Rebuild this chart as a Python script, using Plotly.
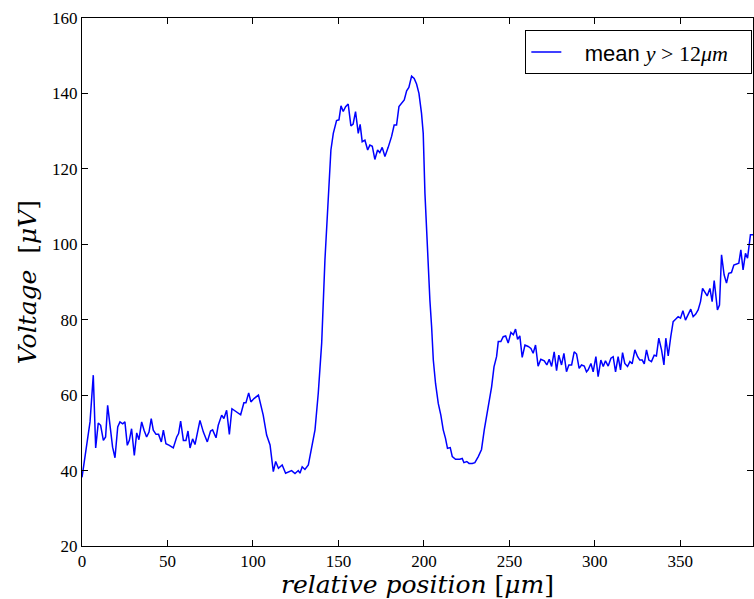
import plotly.graph_objects as go

position = [
    0.0, 4.7, 6.6, 8.0, 9.5, 10.9, 12.5, 13.8, 15.0, 16.8, 17.9, 19.3, 20.9, 22.2, 23.8, 25.1,
    26.5, 27.7, 29.0, 30.6, 32.0, 33.3, 34.9, 36.3, 37.8, 39.2, 40.5, 41.7, 43.3, 44.8, 46.4,
    47.6, 49.1, 51.1, 53.4, 55.4, 56.5, 57.7, 59.3, 60.8, 62.0, 63.2, 64.7, 66.1, 67.4, 69.0,
    71.0, 73.3, 75.2, 76.4, 78.4, 79.7, 81.7, 83.0, 84.6, 86.2, 87.7, 90.4, 92.8, 94.7, 95.9,
    97.5,
    98.8, 100.6, 103.2, 106.0, 108.0, 110.0, 111.9, 113.3, 114.9, 117.1, 119.1, 122.6, 124.6,
    126.5, 127.5, 128.8, 130.4, 132.4, 134.3, 136.3, 138.2, 140.2, 142.1, 144.0, 145.6, 147.0,
    148.9, 150.3, 151.5, 152.8, 154.2, 155.7, 157.3, 158.6, 160.0, 161.6, 162.7, 163.9, 165.5,
    167.1, 168.4, 169.8, 171.3, 172.9, 174.2, 175.6, 177.2, 179.1, 181.1, 182.6, 184.0, 185.4,
    186.9, 188.5, 189.9, 191.2, 192.8, 194.3, 195.7, 197.1, 198.6, 199.6, 200.6, 202.0,
    203.5, 204.5, 205.5, 206.8, 208.4, 209.9, 211.3, 212.6, 213.8, 215.4, 216.6, 218.5, 221.0,
    222.4, 223.4, 225.1, 226.4, 228.3, 229.8, 231.8, 233.7, 235.3, 236.6, 238.0, 239.6, 241.0,
    242.5, 243.5, 245.0, 246.4, 247.8, 249.3, 250.9, 252.3, 253.6, 254.8, 256.1, 257.5, 259.1,
    261.0, 262.6, 263.9, 265.3, 266.8, 268.4, 270.4, 271.9, 273.3, 274.7, 276.2, 277.6, 278.9,
    280.5, 281.9, 283.4, 284.8, 286.4, 287.9, 289.3, 290.8, 292.2, 293.8, 295.1,
    296.1, 297.7, 299.0, 300.6, 301.9, 303.5, 304.9, 306.2, 307.8, 309.4, 310.7, 312.1, 313.6,
    315.0, 316.2, 317.5, 319.1, 320.5, 321.8, 323.4, 325.0, 326.3, 327.7, 328.9, 330.2, 331.6,
    333.1, 334.7, 336.0, 337.4, 339.0, 340.4, 341.5, 342.9, 344.4, 345.8, 347.2, 348.7, 350.1,
    351.5, 353.0, 354.6, 356.1, 357.5, 359.0, 360.4, 361.8, 363.0, 364.3, 365.7, 367.3, 368.6,
    369.8, 370.8, 371.7, 372.9, 374.1, 375.6, 377.0, 378.3, 379.9, 381.3, 382.8, 384.2, 385.4,
    386.7, 388.1, 389.3, 391.0, 392.5,
]
voltage = [
    38.2, 52.9, 65.3, 46.0, 52.6, 52.0, 48.0, 48.9, 57.3, 50.7, 46.2, 43.4, 51.6, 52.9, 52.4, 52.9,
    46.7, 48.0, 51.1, 44.0, 50.0, 48.2, 52.9, 50.7, 48.9, 50.2, 53.8, 50.7, 49.6, 49.6, 47.6,
    50.7, 47.1, 46.7, 46.0, 48.9, 49.8, 53.1, 48.0, 48.0, 50.5, 46.0, 48.4, 46.9, 50.2, 53.3,
    50.2, 47.6, 50.5, 50.8, 48.7, 52.0, 54.7, 53.8, 56.0, 49.6, 56.4, 55.6, 54.8, 58.0, 58.0,
    60.6,
    58.2, 59.1, 60.0, 54.7, 49.4, 46.8, 39.7, 42.4, 40.6, 41.5, 39.3, 40.0, 39.2,
    40.0, 39.3, 41.0, 40.3, 41.5, 46.3, 50.8, 60.5, 73.8, 95.8, 113.5, 125.0, 129.4,
    132.8, 133.0, 136.7, 135.2, 136.5, 137.2, 131.4, 131.9, 135.2, 129.4, 131.8, 127.2, 127.6,
    125.0, 126.3, 126.0, 122.5, 125.0, 124.3, 125.7, 123.3, 125.7, 128.6, 131.6, 131.6, 136.5,
    137.4, 138.3, 140.7, 141.6, 144.6, 144.0, 142.5, 140.0, 134.7, 129.4, 113.5, 98.0,
    85.2, 78.2, 69.3, 63.1, 57.8, 54.7, 50.8, 48.6, 45.9, 46.1, 43.7, 43.0, 43.0,
    43.2, 42.1, 42.4, 41.9, 41.9, 42.1, 43.7, 45.6, 50.8, 54.3, 56.9, 62.2, 67.5,
    70.2, 74.2, 74.2, 75.5, 75.7, 73.8, 76.6, 76.0, 77.5, 74.8, 75.7, 70.0, 73.3,
    72.9, 72.4, 71.1, 73.3, 67.7, 69.5, 69.1, 68.0, 69.5, 67.6, 71.5, 66.5, 70.6,
    68.0, 71.1, 66.2, 68.0, 68.0, 71.5, 70.9, 67.1, 68.0, 67.7, 66.2,
    66.7, 68.4, 66.2, 70.2, 64.9, 69.3, 67.6, 69.1, 67.7, 69.8, 70.2, 66.2, 70.2,
    66.7, 71.3, 68.4, 67.6, 68.9, 68.3, 72.0, 70.2, 69.3, 69.3, 68.3, 72.0, 69.3,
    68.9, 70.6, 70.4, 75.1, 72.0, 68.0, 75.1, 70.4, 75.5, 79.5, 80.1, 80.8, 80.4,
    82.4, 79.9, 81.3, 82.8, 80.8, 81.5, 82.6, 84.8, 88.3, 87.4, 86.3, 88.3, 84.8,
    90.4, 86.6, 82.6, 83.9, 97.2, 91.9, 89.7, 92.3, 92.5, 94.5, 94.7, 95.0, 98.5,
    93.2, 97.6, 96.3, 102.5, 102.5,
]

x_ticks = [0, 50, 100, 150, 200, 250, 300, 350]
y_ticks = [20, 40, 60, 80, 100, 120, 140, 160]

SERIF = "Liberation Serif, DejaVu Serif, serif"
TITLE_SERIF = "DejaVu Serif, Liberation Serif, serif"
SANS = "Liberation Sans, Arial, sans-serif"

fig = go.Figure()
fig.add_trace(go.Scatter(
    x=position, y=voltage, mode="lines",
    line=dict(color="#0000ff", width=1.5),
    name='&nbsp;&nbsp;&nbsp;mean <span style="font-family:Liberation Serif"><i>y</i> &gt; 12<i>μm</i></span>&nbsp;&nbsp;&nbsp;',
    showlegend=True,
))

axis_common = dict(
    showline=True, linecolor="black", linewidth=1, mirror="ticks",
    ticks="inside", ticklen=6, tickwidth=1, tickcolor="black",
    showgrid=False, zeroline=False,
    tickfont=dict(family=SERIF, size=17, color="black"),
)

fig.update_layout(
    width=754, height=599,
    margin=dict(l=82, r=1, t=18, b=53),
    paper_bgcolor="white", plot_bgcolor="white",
    xaxis=dict(range=[0, 392.5], tickvals=x_ticks, ticktext=[str(v) for v in x_ticks],
               title=dict(text="<i>relative position</i> [<i>μm</i>]",
                          font=dict(family=TITLE_SERIF, size=25, color="black"), standoff=9),
               **axis_common),
    yaxis=dict(range=[20, 160], tickvals=y_ticks, ticktext=[str(v) for v in y_ticks],
               title=dict(text="<i>Voltage</i>  [<i>μV</i>]",
                          font=dict(family=TITLE_SERIF, size=25, color="black"), standoff=8),
               **axis_common),
    legend=dict(x=0.999, y=0.977, xanchor="right", yanchor="top",
                bgcolor="white", bordercolor="black", borderwidth=1,
                font=dict(family=SANS, size=22, color="black")),
)

fig.write_html(
    "out.html",
    config={"displayModeBar": False},
    post_script="document.body.style.margin='0';document.body.style.overflow='hidden';",
)
